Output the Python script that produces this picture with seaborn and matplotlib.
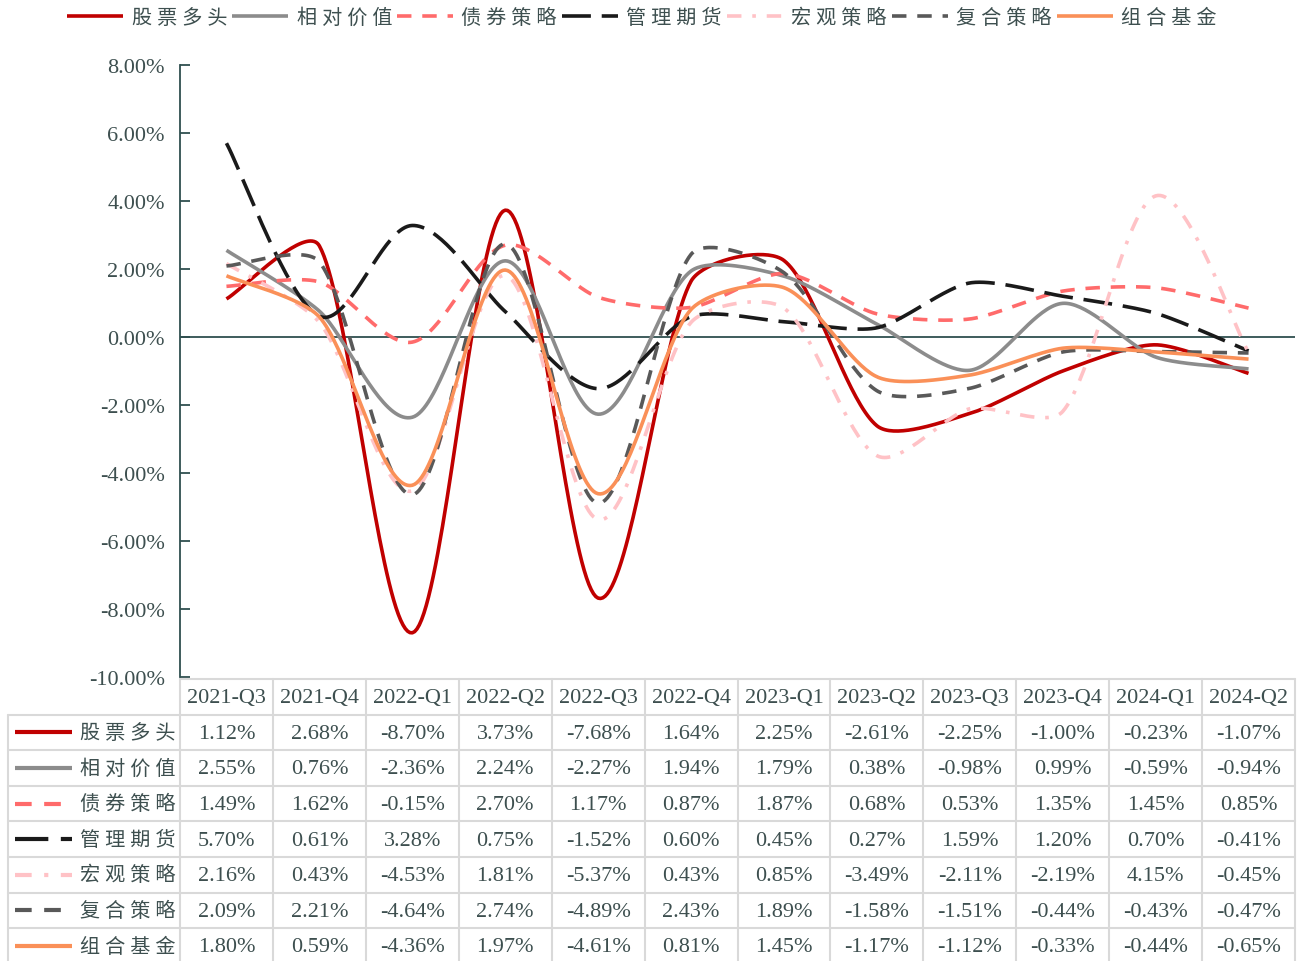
import numpy as np
import pandas as pd
import matplotlib
matplotlib.use("Agg")
import matplotlib.pyplot as plt
import seaborn as sns

quarters = ["2021-Q3", "2021-Q4", "2022-Q1", "2022-Q2", "2022-Q3", "2022-Q4",
            "2023-Q1", "2023-Q2", "2023-Q3", "2023-Q4", "2024-Q1", "2024-Q2"]
series_names = ["股票多头", "相对价值", "债券策略", "管理期货", "宏观策略", "复合策略", "组合基金"]
stock_long = [1.12, 2.68, -8.70, 3.73, -7.68, 1.64, 2.25, -2.61, -2.25, -1.00, -0.23, -1.07]
relative_value = [2.55, 0.76, -2.36, 2.24, -2.27, 1.94, 1.79, 0.38, -0.98, 0.99, -0.59, -0.94]
bond = [1.49, 1.62, -0.15, 2.70, 1.17, 0.87, 1.87, 0.68, 0.53, 1.35, 1.45, 0.85]
managed_futures = [5.70, 0.61, 3.28, 0.75, -1.52, 0.60, 0.45, 0.27, 1.59, 1.20, 0.70, -0.41]
macro = [2.16, 0.43, -4.53, 1.81, -5.37, 0.43, 0.85, -3.49, -2.11, -2.19, 4.15, -0.45]
multi = [2.09, 2.21, -4.64, 2.74, -4.89, 2.43, 1.89, -1.58, -1.51, -0.44, -0.43, -0.47]
fof = [1.80, 0.59, -4.36, 1.97, -4.61, 0.81, 1.45, -1.17, -1.12, -0.33, -0.44, -0.65]
yticks = [-10, -8, -6, -4, -2, 0, 2, 4, 6, 8]

all_values = [stock_long, relative_value, bond, managed_futures, macro, multi, fof]
colors = ["#C00000", "#8C8C8C", "#FF6B6B", "#1A1A1A", "#FFC2C6", "#595959", "#FA9058"]
dashes = [None, None, (4, 3), (8, 3), (4, 3, 1, 3), (4, 3), None]

sns.set_theme(style="white")
plt.rcParams['font.family'] = ['Liberation Serif', 'Noto Sans CJK SC', 'DejaVu Sans']
TXT = "#3D4F4F"
AX = "#2F4F4F"

W, H = 1302, 962
fig = plt.figure(figsize=(W / 100, H / 100), dpi=100)
fig.patch.set_facecolor("white")

# screen scale (px per x unit, px per 1%) used for Excel-like smoothing
SX, SY = (1295 - 180) / len(quarters), (678 - 66) / 18.0


def smooth(xv, yv, k=0.25, n=40):
    P = np.column_stack([np.asarray(xv, float) * SX, np.asarray(yv, float) * SY])
    m = len(P)
    Hh = np.zeros_like(P)
    for i in range(m):
        a = P[max(i - 1, 0)]
        b = P[min(i + 1, m - 1)]
        Hh[i] = (b - a) / 6.0
    out = []
    t = np.linspace(0, 1, n, endpoint=False)[:, None]
    for i in range(m - 1):
        p1, p2 = P[i], P[i + 1]
        L = np.linalg.norm(p2 - p1)
        h1, h2 = Hh[i], Hh[i + 1]
        s1 = min(1.0, k * L / max(np.linalg.norm(h1), 1e-9))
        s2 = min(1.0, k * L / max(np.linalg.norm(h2), 1e-9))
        c1 = p1 + h1 * s1
        c2 = p2 - h2 * s2
        b = (1 - t) ** 3 * p1 + 3 * (1 - t) ** 2 * t * c1 + 3 * (1 - t) * t ** 2 * c2 + t ** 3 * p2
        out.append(b)
    out.append(P[-1][None, :])
    r = np.vstack(out)
    return r[:, 0] / SX, r[:, 1] / SY


# main axes
ax = fig.add_axes([180 / W, (H - 678) / H, (1295 - 180) / W, (678 - 66) / H])
xidx = np.arange(len(quarters))
lw = 2.6
handles = []
for name, vals, c, d in zip(series_names, all_values, colors, dashes):
    sx, sy = smooth(xidx, vals)
    df = pd.DataFrame({"x": sx, "y": sy})
    before = len(ax.lines)
    sns.lineplot(data=df, x="x", y="y", ax=ax, color=c, lw=lw, sort=False,
                 estimator=None, label=name, legend=False)
    line = ax.lines[before]
    if d is not None:
        line.set_dashes(d)
    line.set_solid_capstyle("butt")
    handles.append(line)

ax.axhline(0, color=AX, lw=1.3, zorder=0)
ax.set_xlim(-0.5, len(quarters) - 0.5)
ax.set_ylim(-10, 8)
ax.set_yticks(yticks)
ax.set_yticklabels([f"{v:.2f}%" for v in yticks], color=TXT, fontsize=16)
ax.set_xticks([])
ax.set_xlabel("")
ax.set_ylabel("")
for s in ["top", "right", "bottom"]:
    ax.spines[s].set_visible(False)
ax.spines["left"].set_color(AX)
ax.spines["left"].set_linewidth(1.3)
ax.tick_params(axis="y", direction="in", length=7, width=1.3, color=AX, pad=11, left=True)
ax.patch.set_alpha(0)

fig.legend(handles=handles, labels=[" ".join(n) for n in series_names], loc="center", ncol=7,
           bbox_to_anchor=(642 / W, 1 - 19 / H), frameon=False, fontsize=14.5,
           handlelength=2.8, handletextpad=0.4, columnspacing=0.25,
           labelcolor=TXT)

# table
tax = fig.add_axes([0, 0, 1, (H - 678) / H])
tax.set_xlim(0, W)
tax.set_ylim(H, 678)
tax.axis("off")
grid = "#D9D9D9"
col0, col_left = 8, 180
col_w = (1295 - 180) / len(quarters)
hdr_top, hdr_bot = 680, 715.5
row_h = 35.6
nrows = len(series_names)
bottom = hdr_bot + row_h * nrows

tax.plot([col_left, 1295], [hdr_top, hdr_top], color=grid, lw=1.5)
for r in range(nrows + 1):
    yy = hdr_bot + r * row_h
    tax.plot([col0, 1295], [yy, yy], color=grid, lw=1.5)
tax.plot([col0, col0], [hdr_bot, bottom], color=grid, lw=1.5)
for c in range(len(quarters) + 1):
    xx = col_left + c * col_w
    tax.plot([xx, xx], [hdr_top, bottom], color=grid, lw=1.5)

for c, q in enumerate(quarters):
    tax.text(col_left + (c + 0.5) * col_w, (hdr_top + hdr_bot) / 2 + 1, q,
             ha="center", va="center", fontsize=16, color=TXT)

for r, (name, vals, clr, d) in enumerate(zip(series_names, all_values, colors, dashes)):
    yc = hdr_bot + (r + 0.5) * row_h
    ln, = tax.plot([15, 72], [yc, yc], color=clr, lw=3.0, solid_capstyle="butt")
    if d is not None:
        ln.set_dashes(d)
    tax.text(80, yc + 1, " ".join(name), ha="left", va="center", fontsize=14.5, color=TXT)
    for c, v in enumerate(vals):
        tax.text(col_left + (c + 0.5) * col_w, yc + 1, f"{v:.2f}%",
                 ha="center", va="center", fontsize=16, color=TXT)

fig.savefig("out.png", dpi=100, facecolor="white")
